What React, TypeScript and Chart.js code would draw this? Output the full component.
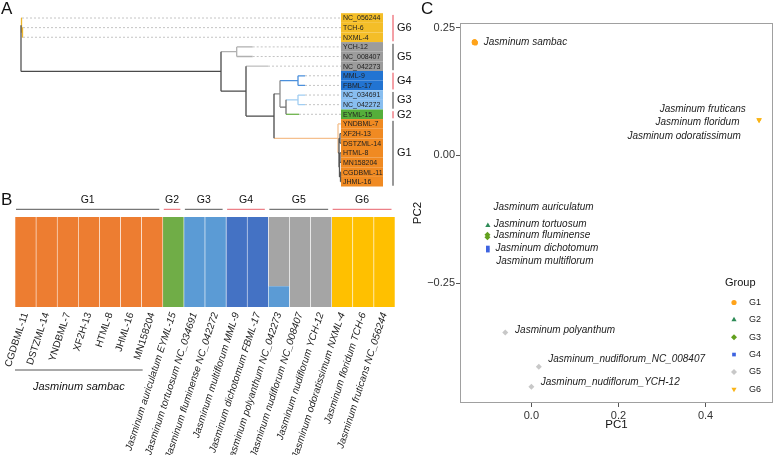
import React, { useEffect, useRef } from "react";
import { Chart, registerables } from "chart.js";
import { drawPoint } from "chart.js/helpers";

Chart.register(...registerables);

const FONT = '"Liberation Sans", Arial, Helvetica, sans-serif';
Chart.defaults.font.family = FONT;

// ---------------- data ----------------
const sampleIds = ["CGDBML-11", "DSTZML-14", "YNDBML-7", "XF2H-13", "HTML-8", "JHML-16", "MN158204", "EYML-15", "NC_034691", "NC_042272", "MML-9", "FBML-17", "NC_042273", "NC_008407", "YCH-12", "NXML-4", "TCH-6", "NC_056244"];
const sampleSpecies = ["", "", "", "", "", "", "", "Jasminum auriculatum", "Jasminum tortuosum", "Jasminum fluminense", "Jasminum multiflorum", "Jasminum dichotomum", "Jasminum polyanthum", "Jasminum nudiflorum", "Jasminum nudiflorum", "Jasminum odoratissimum", "Jasminum floridum", "Jasminum fruticans"];
const sampleGroups = ["G1", "G1", "G1", "G1", "G1", "G1", "G1", "G2", "G3", "G3", "G4", "G4", "G5", "G5", "G5", "G6", "G6", "G6"];
const groupNames = ["G1", "G2", "G3", "G4", "G5", "G6"];

// structure (admixture) memberships per cluster
const clusterK1 = [1, 1, 1, 1, 1, 1, 1, 0, 0, 0, 0, 0, 0, 0, 0, 0, 0, 0];
const clusterK2 = [0, 0, 0, 0, 0, 0, 0, 1, 0, 0, 0, 0, 0, 0, 0, 0, 0, 0];
const clusterK3 = [0, 0, 0, 0, 0, 0, 0, 0, 1, 1, 0, 0, 0.23, 0, 0, 0, 0, 0];
const clusterK4 = [0, 0, 0, 0, 0, 0, 0, 0, 0, 0, 1, 1, 0, 0, 0, 0, 0, 0];
const clusterK5 = [0, 0, 0, 0, 0, 0, 0, 0, 0, 0, 0, 0, 0.77, 1, 1, 0, 0, 0];
const clusterK6 = [0, 0, 0, 0, 0, 0, 0, 0, 0, 0, 0, 0, 0, 0, 0, 1, 1, 1];
const clusterColors = ["#ED7D31", "#70AD47", "#5B9BD5", "#4472C4", "#A5A5A5", "#FFC000"];

// PCA coordinates per sample
const pc1 = [-0.130, -0.131, -0.130, -0.129, -0.130, -0.130, -0.131, -0.100, -0.101, -0.101, -0.100, -0.100, -0.060, 0.017, 0.000, 0.523, 0.523, 0.523];
const pc2 = [0.221, 0.222, 0.221, 0.220, 0.221, 0.222, 0.221, -0.137, -0.155, -0.160, -0.186, -0.180, -0.346, -0.413, -0.452, 0.070, 0.069, 0.070];
const pcaXTicks = [0.0, 0.2, 0.4];
const pcaYTicks = [-0.25, 0.0, 0.25];

// phylogeny (branch lengths)
const treeNewick =
  "((NC_056244:0.5,(TCH-6:0.5,NXML-4:0.5)g6b:1)G6:0.5,((YCH-12:16,NC_008407:16)G5b:15.7,(NC_042273:22,(((MML-9:7,FBML-17:7)G4:18,((NC_034691:7,NC_042272:7)G3:12,EYML-15:13)F:6)E:6,(YNDBML-7:2,((XF2H-13:1,DSTZML-14:1)g1b:1,((HTML-8:1,MN158204:1)g1d:0.5,(CGDBML-11:0.5,JHML-16:0.5)g1e:1)g1c:0.5)g1a:1)G1:64)D:28)C:25)A:200)root;";

// ---------------- styles ----------------
const branchColors: Record<string, string> = {
  root: "#555555", G6: "#EDB62B", A: "#4a4a4a", G5b: "#b0b0b0", C: "#4a4a4a", "NC_042273": "#c0c0c0",
  D: "#4a4a4a", E: "#8c8c8c", G4: "#4a8fdc", F: "#707070", G3: "#a0cdf2", "EYML-15": "#6db34b",
  G1: "#F5C08E", g1a: "#555555",
};
const treeBoxColors: Record<string, string> = { G1: "#F08A22", G2: "#55AE3A", G3: "#88BEF0", G4: "#2274D2", G5: "#9C9C9C", G6: "#F4BE28" };
const bracketColors = ["#333333", "#E8434F", "#333333", "#E8434F", "#333333", "#E8434F"];
const headerColors = ["#555555", "#E8616B", "#555555", "#E8616B", "#555555", "#E8616B"];
const pcaStyles: Record<string, { color: string; style: string; rotation: number; radius: number }> = {
  G1: { color: "#FFA31A", style: "circle", rotation: 0, radius: 2.6 },
  G2: { color: "#2E8B57", style: "triangle", rotation: 0, radius: 3 },
  G3: { color: "#62A01E", style: "rectRot", rotation: 0, radius: 3 },
  G4: { color: "#3D63E0", style: "rect", rotation: 0, radius: 2.6 },
  G5: { color: "#C8C8C8", style: "rectRot", rotation: 0, radius: 3 },
  G6: { color: "#F9B418", style: "triangle", rotation: 180, radius: 3 },
};
const pcaLabels = [
  { text: "Jasminum sambac", i: 0, dx: 9, dy: 0, align: "left" },
  { text: "Jasminum fruticans", i: 17, dx: -13.3, dy: -10.6, align: "right" },
  { text: "Jasminum floridum", i: 16, dx: -19.6, dy: 2.4, align: "right" },
  { text: "Jasminum odoratissimum", i: 15, dx: -18.3, dy: 16.7, align: "right" },
  { text: "Jasminum auriculatum", i: 7, dx: 5.7, dy: -18.4, align: "left" },
  { text: "Jasminum tortuosum", i: 8, dx: 6.3, dy: -10.4, align: "left" },
  { text: "Jasminum fluminense", i: 9, dx: 6.3, dy: -1.9, align: "left" },
  { text: "Jasminum multiflorum", i: 10, dx: 8.4, dy: 10.8, align: "left" },
  { text: "Jasminum dichotomum", i: 11, dx: 7.7, dy: 1.1, align: "left" },
  { text: "Jasminum polyanthum", i: 12, dx: 9.8, dy: -2.2, align: "left" },
  { text: "Jasminum_nudiflorum_NC_008407", i: 13, dx: 9.5, dy: -7.2, align: "left" },
  { text: "Jasminum_nudiflorum_YCH-12", i: 14, dx: 9.4, dy: -4.1, align: "left" },
];

// ---------------- tree helpers ----------------
type TNode = { name: string; len: number; children: TNode[]; x: number; y: number; color: string };

function parseNewick(s: string): TNode {
  let i = 0;
  const parseNode = (): TNode => {
    const node: TNode = { name: "", len: 0, children: [], x: 0, y: 0, color: "" };
    if (s[i] === "(") {
      i++;
      node.children.push(parseNode());
      while (s[i] === ",") { i++; node.children.push(parseNode()); }
      i++;
    }
    let name = "";
    while (i < s.length && !",():;".includes(s[i])) name += s[i++];
    node.name = name.trim();
    if (s[i] === ":") {
      i++;
      let num = "";
      while (i < s.length && !",();".includes(s[i])) num += s[i++];
      node.len = parseFloat(num);
    }
    return node;
  };
  return parseNode();
}

const treeRoot = parseNewick(treeNewick);
const treeLeaves: TNode[] = [];
(function assign(node: TNode, x: number, parent: TNode | null) {
  node.x = x;
  node.color = branchColors[node.name] ?? (parent ? parent.color : "#555");
  if (!node.children.length) {
    node.y = treeLeaves.length;
    treeLeaves.push(node);
  } else {
    node.children.forEach((c) => assign(c, x + c.len, node));
    node.y = (node.children[0].y + node.children[node.children.length - 1].y) / 2;
  }
})(treeRoot, 0, null);

const TIP_ALIGN = 320;
const BOX_END = 362;

function treeDatasets() {
  const byColor = new Map<string, { x: number; y: number | null }[]>();
  const add = (color: string, pts: [number, number][]) => {
    if (!byColor.has(color)) byColor.set(color, []);
    const arr = byColor.get(color)!;
    pts.forEach(([x, y]) => arr.push({ x, y }));
    arr.push({ x: pts[pts.length - 1][0], y: null });
  };
  (function walk(node: TNode, parent: TNode | null) {
    if (parent) add(node.color, [[parent.x, node.y], [node.x, node.y]]);
    if (node.children.length) {
      add(node.color, [[node.x, node.children[0].y], [node.x, node.children[node.children.length - 1].y]]);
      node.children.forEach((c) => walk(c, node));
    }
  })(treeRoot, null);
  const dashed: { x: number; y: number | null }[] = [];
  treeLeaves.forEach((l) => {
    if (l.x < TIP_ALIGN - 0.6) {
      dashed.push({ x: l.x, y: l.y }, { x: TIP_ALIGN, y: l.y }, { x: TIP_ALIGN, y: null });
    }
  });
  const sets: any[] = [
    { data: dashed, borderColor: "#c4c4c4", borderWidth: 1, borderDash: [2, 2], pointRadius: 0, spanGaps: false },
  ];
  byColor.forEach((data, color) => {
    sets.push({ data, borderColor: color, borderWidth: 1.3, pointRadius: 0, spanGaps: false });
  });
  return sets;
}

const groupOfId = (id: string) => sampleGroups[sampleIds.indexOf(id)];

const treeDecor = {
  id: "treeDecor",
  beforeDatasetsDraw(chart: any) {
    const { ctx, scales } = chart;
    const x = scales.x, y = scales.y;
    ctx.save();
    treeLeaves.forEach((leaf) => {
      const top = y.getPixelForValue(leaf.y - 0.5);
      const bot = y.getPixelForValue(leaf.y + 0.5);
      const l = x.getPixelForValue(TIP_ALIGN);
      const r = x.getPixelForValue(BOX_END);
      ctx.fillStyle = treeBoxColors[groupOfId(leaf.name)];
      ctx.fillRect(l, top, r - l, bot - top);
    });
    ctx.restore();
  },
  afterDatasetsDraw(chart: any) {
    const { ctx, scales } = chart;
    const x = scales.x, y = scales.y;
    ctx.save();
    ctx.font = `7px ${FONT}`;
    ctx.fillStyle = "#222";
    ctx.textAlign = "left";
    ctx.textBaseline = "middle";
    treeLeaves.forEach((leaf) => {
      ctx.fillText(leaf.name, x.getPixelForValue(TIP_ALIGN) + 2, y.getPixelForValue(leaf.y) + 0.5);
    });
    const bx = x.getPixelForValue(BOX_END) + 10;
    groupNames.forEach((g, gi) => {
      const rows = treeLeaves.filter((l) => groupOfId(l.name) === g).map((l) => l.y);
      const y0 = y.getPixelForValue(Math.min(...rows) - 0.32);
      const y1 = y.getPixelForValue(Math.max(...rows) + 0.42);
      ctx.strokeStyle = bracketColors[gi];
      ctx.lineWidth = 1;
      ctx.beginPath();
      ctx.moveTo(bx, y0);
      ctx.lineTo(bx, y1);
      ctx.stroke();
      ctx.font = `11px ${FONT}`;
      ctx.fillStyle = "#111";
      ctx.fillText(g, bx + 4, (y0 + y1) / 2);
    });
    ctx.restore();
  },
};

// ---------------- bar decor ----------------
const barDecor = {
  id: "barDecor",
  afterDraw(chart: any) {
    const { ctx, chartArea } = chart;
    const x = chart.scales.x;
    const bw = x.getPixelForValue(1) - x.getPixelForValue(0);
    ctx.save();
    ctx.textAlign = "center";
    ctx.textBaseline = "middle";
    groupNames.forEach((g, gi) => {
      const idx = sampleGroups.map((s, i) => (s === g ? i : -1)).filter((i) => i >= 0);
      const l = x.getPixelForValue(idx[0]) - bw / 2 + 1;
      const r = x.getPixelForValue(idx[idx.length - 1]) + bw / 2 - 3.5;
      const yl = chartArea.top - 7.7;
      ctx.strokeStyle = headerColors[gi];
      ctx.lineWidth = 1;
      ctx.beginPath();
      ctx.moveTo(l, yl);
      ctx.lineTo(r, yl);
      ctx.stroke();
      ctx.font = `10.5px ${FONT}`;
      ctx.fillStyle = "#111";
      ctx.fillText(g, (l + r) / 2, yl - 9);
    });
    const g1 = sampleGroups.map((s, i) => (s === "G1" ? i : -1)).filter((i) => i >= 0);
    const l = x.getPixelForValue(g1[0]) - bw / 2;
    const r = x.getPixelForValue(g1[g1.length - 1]) - bw / 2 + 1;
    const yl = chartArea.bottom + 63;
    ctx.strokeStyle = "#555";
    ctx.beginPath();
    ctx.moveTo(l, yl);
    ctx.lineTo(r, yl);
    ctx.stroke();
    ctx.font = `italic 11px ${FONT}`;
    ctx.fillStyle = "#111";
    ctx.fillText("Jasminum sambac", (l + r) / 2, yl + 17);
    ctx.restore();
  },
};

// ---------------- pca decor ----------------
const pcaDecor = {
  id: "pcaDecor",
  afterDraw(chart: any) {
    const { ctx, chartArea: a } = chart;
    const x = chart.scales.x, y = chart.scales.y;
    ctx.save();
    ctx.strokeStyle = "#a0a0a0";
    ctx.lineWidth = 1;
    ctx.strokeRect(a.left + 0.5, a.top + 0.5, a.right - a.left - 1, a.bottom - a.top - 1);
    ctx.fillStyle = "#222";
    ctx.font = `italic 10px ${FONT}`;
    ctx.textBaseline = "middle";
    pcaLabels.forEach((lb) => {
      ctx.textAlign = lb.align as CanvasTextAlign;
      ctx.fillText(lb.text, x.getPixelForValue(pc1[lb.i]) + lb.dx, y.getPixelForValue(pc2[lb.i]) + lb.dy);
    });
    // legend
    ctx.textAlign = "left";
    ctx.font = `11px ${FONT}`;
    ctx.fillStyle = "#111";
    ctx.fillText("Group", a.right - 48, a.bottom - 120);
    groupNames.forEach((g, k) => {
      const st = pcaStyles[g];
      const yy = a.bottom - 100.5 + 17.35 * k;
      ctx.fillStyle = st.color;
      ctx.strokeStyle = st.color;
      drawPoint(ctx, { pointStyle: st.style as any, rotation: st.rotation, radius: st.radius, borderWidth: 0 }, a.right - 39, yy);
      ctx.fillStyle = "#222";
      ctx.font = `9px ${FONT}`;
      ctx.fillText(g, a.right - 24, yy);
    });
    ctx.restore();
  },
};

// ---------------- configs ----------------
function treeConfig(): any {
  return {
    type: "line",
    data: { datasets: treeDatasets() },
    options: {
      animation: false,
      responsive: false,
      events: [],
      layout: { padding: 0 },
      plugins: { legend: { display: false }, tooltip: { enabled: false } },
      elements: { line: { tension: 0 } },
      scales: {
        x: { type: "linear", display: false, min: -21, max: 394 },
        y: { type: "linear", display: false, min: -1.87, max: 18.07, reverse: true },
      },
    },
    plugins: [treeDecor],
  };
}

function barConfig(): any {
  const clusters = [clusterK1, clusterK2, clusterK3, clusterK4, clusterK5, clusterK6];
  return {
    type: "bar",
    data: {
      labels: sampleIds.map((id, i) => (sampleSpecies[i] ? `${sampleSpecies[i]} ${id}` : id)),
      datasets: clusters.map((vals, k) => ({
        label: `K${k + 1}`,
        data: vals,
        backgroundColor: clusterColors[k],
        borderColor: "rgba(255,255,255,0.9)",
        borderWidth: { left: 0.6, right: 0.6, top: 0, bottom: 0 },
        borderSkipped: false,
        barPercentage: 1,
        categoryPercentage: 1,
      })),
    },
    options: {
      animation: false,
      responsive: false,
      events: [],
      layout: { padding: { left: 15, right: 10, top: 27, bottom: 0 } },
      plugins: { legend: { display: false }, tooltip: { enabled: false } },
      scales: {
        x: {
          stacked: true,
          grid: { display: false, drawTicks: false },
          border: { display: false },
          ticks: {
            autoSkip: false,
            minRotation: 72,
            maxRotation: 72,
            padding: 4,
            color: "#222",
            font: (c: any) => ({ family: FONT, size: 10, style: sampleSpecies[c.index] ? "italic" : "normal" }),
          },
          afterFit: (s: any) => { s.height = 148; },
        },
        y: { stacked: true, display: false, min: 0, max: 1 },
      },
    },
    plugins: [barDecor],
  };
}

function pcaConfig(): any {
  return {
    type: "scatter",
    data: {
      datasets: groupNames.map((g) => {
        const st = pcaStyles[g];
        const idx = sampleGroups.map((s, i) => (s === g ? i : -1)).filter((i) => i >= 0);
        return {
          label: g,
          data: idx.map((i) => ({ x: pc1[i], y: pc2[i] })),
          pointStyle: st.style,
          rotation: st.rotation,
          pointRadius: st.radius,
          pointBorderWidth: 0,
          backgroundColor: st.color,
          borderColor: st.color,
        };
      }),
    },
    options: {
      animation: false,
      responsive: false,
      events: [],
      layout: { padding: { left: 0, right: 1, top: 23, bottom: 0 } },
      plugins: { legend: { display: false }, tooltip: { enabled: false } },
      scales: {
        x: {
          type: "linear",
          min: -0.164,
          max: 0.555,
          border: { display: false },
          grid: { drawOnChartArea: false, drawTicks: true, tickLength: 4, color: "#555" },
          afterBuildTicks: (s: any) => { s.ticks = pcaXTicks.map((v) => ({ value: v })); },
          ticks: { padding: 2, color: "#333", font: { size: 11 }, callback: (v: any) => Number(v).toFixed(1) },
          title: { display: true, text: "PC1", color: "#111", font: { size: 11.5 }, padding: { top: 0, bottom: 23 } },
          afterFit: (s: any) => { s.height = 52; },
        },
        y: {
          type: "linear",
          min: -0.484,
          max: 0.259,
          border: { display: false },
          grid: { drawOnChartArea: false, drawTicks: true, tickLength: 4, color: "#555" },
          afterBuildTicks: (s: any) => { s.ticks = pcaYTicks.map((v) => ({ value: v })); },
          ticks: { padding: 1, color: "#333", font: { size: 11 }, callback: (v: any) => Number(v).toFixed(2).replace("-", "\u2212") },
          title: { display: true, text: "PC2", color: "#111", font: { size: 11.5 }, padding: { top: 6, bottom: 0 } },
          afterFit: (s: any) => { s.width = 55; },
        },
      },
    },
    plugins: [pcaDecor],
  };
}

const letterStyle = (left: number, top: number): React.CSSProperties => ({
  position: "absolute", left, top, fontFamily: FONT, fontSize: 17, lineHeight: "17px", color: "#111",
});

export default function App() {
  const aRef = useRef<HTMLCanvasElement>(null);
  const bRef = useRef<HTMLCanvasElement>(null);
  const cRef = useRef<HTMLCanvasElement>(null);
  useEffect(() => {
    const charts = [
      new Chart(aRef.current!, treeConfig()),
      new Chart(bRef.current!, barConfig()),
      new Chart(cRef.current!, pcaConfig()),
    ];
    return () => charts.forEach((c) => c.destroy());
  }, []);
  return (
    <div style={{ position: "absolute", left: 0, top: 0, width: 777, height: 455, background: "#fff", overflow: "hidden" }}>
      <canvas ref={bRef} width={405} height={265} style={{ position: "absolute", left: 0, top: 190, width: 405, height: 265 }} />
      <canvas ref={aRef} width={415} height={192} style={{ position: "absolute", left: 0, top: 0, width: 415, height: 192 }} />
      <canvas ref={cRef} width={372} height={455} style={{ position: "absolute", left: 405, top: 0, width: 372, height: 455 }} />
      <div style={letterStyle(1, 0)}>A</div>
      <div style={letterStyle(1, 191)}>B</div>
      <div style={letterStyle(421, 0)}>C</div>
    </div>
  );
}
